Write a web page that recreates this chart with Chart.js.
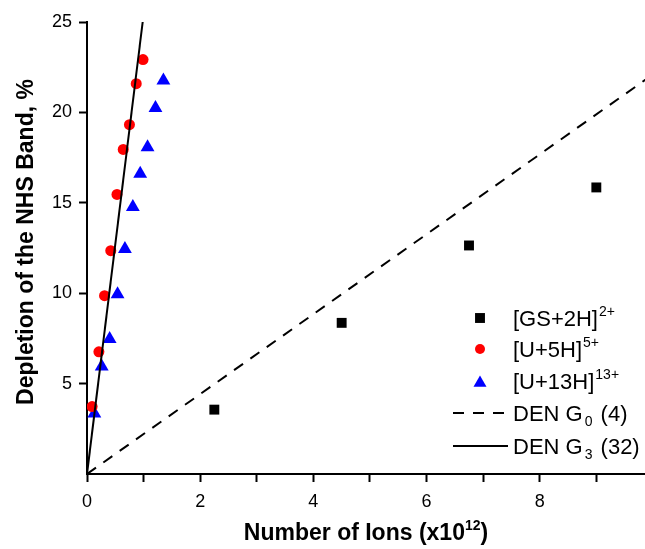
<!DOCTYPE html>
<html>
<head>
<meta charset="utf-8">
<script src="https://cdn.jsdelivr.net/npm/chart.js@4.4.0/dist/chart.umd.min.js"></script>
<style>
  html, body { margin: 0; padding: 0; background: #fff; }
</style>
</head>
<body>
<canvas id="myChart" width="645" height="549"></canvas>
<script>
// data (x in 10^12 ions, y in %)
var gsX = [2.25, 4.5, 6.75, 9.0];
var gsY = [3.56, 8.36, 12.64, 15.85];
var u5X = [0.09, 0.21, 0.31, 0.42, 0.53, 0.64, 0.75, 0.87, 0.99];
var u5Y = [3.73, 6.76, 9.86, 12.35, 15.46, 17.95, 19.32, 21.59, 22.92];
var u13X = [0.13, 0.26, 0.40, 0.54, 0.67, 0.81, 0.94, 1.07, 1.21, 1.35];
var u13Y = [3.35, 5.94, 7.47, 9.94, 12.45, 14.77, 16.6, 18.07, 20.25, 21.76];
var g0X = [0, 10];
var g0Y = [0, 22.1];
var g3X = [0, 0.984];
var g3Y = [0, 25];

var xTicks = [0, 1, 2, 3, 4, 5, 6, 7, 8, 9];
var yTicks = [5, 10, 15, 20, 25];

// legend text: [main, small, rest, small is superscript?]
var legendText = [
  ['[GS+2H]', '2+', '', true],
  ['[U+5H]', '5+', '', true],
  ['[U+13H]', '13+', '', true],
  ['DEN G', '0', ' (4)', false],
  ['DEN G', '3', ' (32)', false]
];

function pts(xs, ys) {
  return xs.map(function (x, i) { return { x: x, y: ys[i] }; });
}

var FONT = '"Liberation Sans", Arial, sans-serif';

var extras = {
  id: 'extras',
  afterDraw: function (chart) {
    var ctx = chart.ctx;
    var area = chart.chartArea;
    ctx.save();
    ctx.fillStyle = '#000';

    // x title with superscript
    ctx.font = 'bold 23px ' + FONT;
    ctx.textBaseline = 'alphabetic';
    var t1 = 'Number of Ions (x10';
    var w1 = ctx.measureText(t1).width;
    ctx.font = 'bold 14px ' + FONT;
    var w2 = ctx.measureText('12').width;
    ctx.font = 'bold 23px ' + FONT;
    var w3 = ctx.measureText(')').width;
    var sx = (area.left + area.right) / 2 - (w1 + w2 + w3) / 2;
    var by = 540;
    ctx.textAlign = 'left';
    ctx.fillText(t1, sx, by);
    ctx.font = 'bold 14px ' + FONT;
    ctx.fillText('12', sx + w1, by - 10);
    ctx.font = 'bold 23px ' + FONT;
    ctx.fillText(')', sx + w1 + w2, by);

    // y title
    ctx.save();
    ctx.translate(27, 242);
    ctx.rotate(-Math.PI / 2);
    ctx.textAlign = 'center';
    ctx.textBaseline = 'middle';
    ctx.font = 'bold 23px ' + FONT;
    ctx.fillText('Depletion of the NHS Band, %', 0, 0);
    ctx.restore();

    // legend
    var rows = [318, 349, 381, 413, 446];
    var mx = 480, tx = 513;
    var H = Chart.helpers;
    ctx.fillStyle = '#000';
    H.drawPoint(ctx, { pointStyle: 'rect', radius: 7, rotation: 0, borderWidth: 0 }, mx, rows[0]);
    ctx.fillStyle = '#ff0000';
    H.drawPoint(ctx, { pointStyle: 'circle', radius: 5, rotation: 0, borderWidth: 0 }, mx, rows[1]);
    ctx.fillStyle = '#0000ff';
    H.drawPoint(ctx, { pointStyle: 'triangle', radius: 7.5, rotation: 0, borderWidth: 0 }, mx, rows[2] + 2);

    ctx.strokeStyle = '#000';
    ctx.lineWidth = 2;
    ctx.setLineDash([11, 9]);
    ctx.beginPath();
    ctx.moveTo(453, rows[3]);
    ctx.lineTo(508, rows[3]);
    ctx.stroke();
    ctx.setLineDash([]);
    ctx.beginPath();
    ctx.moveTo(453, rows[4]);
    ctx.lineTo(508, rows[4]);
    ctx.stroke();

    ctx.fillStyle = '#000';
    ctx.textAlign = 'left';
    ctx.textBaseline = 'alphabetic';
    legendText.forEach(function (r, i) {
      var base = rows[i] + 8;
      ctx.font = '22px ' + FONT;
      ctx.fillText(r[0], tx, base);
      var w = ctx.measureText(r[0]).width;
      ctx.font = '14px ' + FONT;
      var off = r[3] ? -10 : 5;
      var gap = r[3] ? 1 : 2;
      ctx.fillText(r[1], tx + w + gap, base + off);
      var ws = ctx.measureText(r[1]).width + gap * 2;
      ctx.font = '22px ' + FONT;
      ctx.fillText(r[2], tx + w + ws, base);
    });

    ctx.restore();
  }
};

var ctx = document.getElementById('myChart').getContext('2d');
var chart = new Chart(ctx, {
  type: 'scatter',
  data: {
    datasets: [
      {
        label: 'DEN G0 (4)',
        data: pts(g0X, g0Y),
        showLine: true,
        borderColor: '#000',
        borderWidth: 2,
        borderDash: [11, 9],
        pointRadius: 0
      },
      {
        label: 'DEN G3 (32)',
        data: pts(g3X, g3Y),
        showLine: true,
        borderColor: '#000',
        borderWidth: 2,
        pointRadius: 0
      },
      {
        label: '[GS+2H]2+',
        data: pts(gsX, gsY),
        pointStyle: 'rect',
        pointRadius: 7,
        backgroundColor: '#000',
        borderWidth: 0
      },
      {
        label: '[U+5H]5+',
        data: pts(u5X, u5Y),
        pointStyle: 'circle',
        pointRadius: 5.5,
        backgroundColor: '#ff0000',
        borderWidth: 0
      },
      {
        label: '[U+13H]13+',
        data: pts(u13X, u13Y),
        pointStyle: 'triangle',
        pointRadius: 8,
        backgroundColor: '#0000ff',
        borderWidth: 0
      }
    ]
  },
  options: {
    responsive: false,
    animation: false,
    layout: { autoPadding: false, padding: { top: 22, right: 0, left: 0, bottom: 0 } },
    plugins: {
      legend: { display: false },
      tooltip: { enabled: false }
    },
    scales: {
      x: {
        type: 'linear',
        min: 0,
        max: 9.86,
        afterBuildTicks: function (s) { s.ticks = xTicks.map(function (v) { return { value: v }; }); },
        afterFit: function (s) { s.height = 75; },
        ticks: {
          autoSkip: false,
          maxRotation: 0,
          padding: 9,
          color: '#000',
          font: { size: 18, family: FONT },
          callback: function (v) { return v % 2 === 0 ? v : ''; }
        },
        grid: { drawOnChartArea: false, tickLength: 8, tickColor: '#000', tickWidth: 2 },
        border: { color: '#000', width: 2 }
      },
      y: {
        type: 'linear',
        min: 0,
        max: 25,
        afterBuildTicks: function (s) { s.ticks = yTicks.map(function (v) { return { value: v }; }); },
        afterFit: function (s) { s.width = 87; },
        ticks: {
          padding: 7,
          color: '#000',
          font: { size: 18, family: FONT }
        },
        grid: { drawOnChartArea: false, tickLength: 8, tickColor: '#000', tickWidth: 2 },
        border: { color: '#000', width: 2 }
      }
    }
  },
  plugins: [extras]
});
</script>
</body>
</html>
